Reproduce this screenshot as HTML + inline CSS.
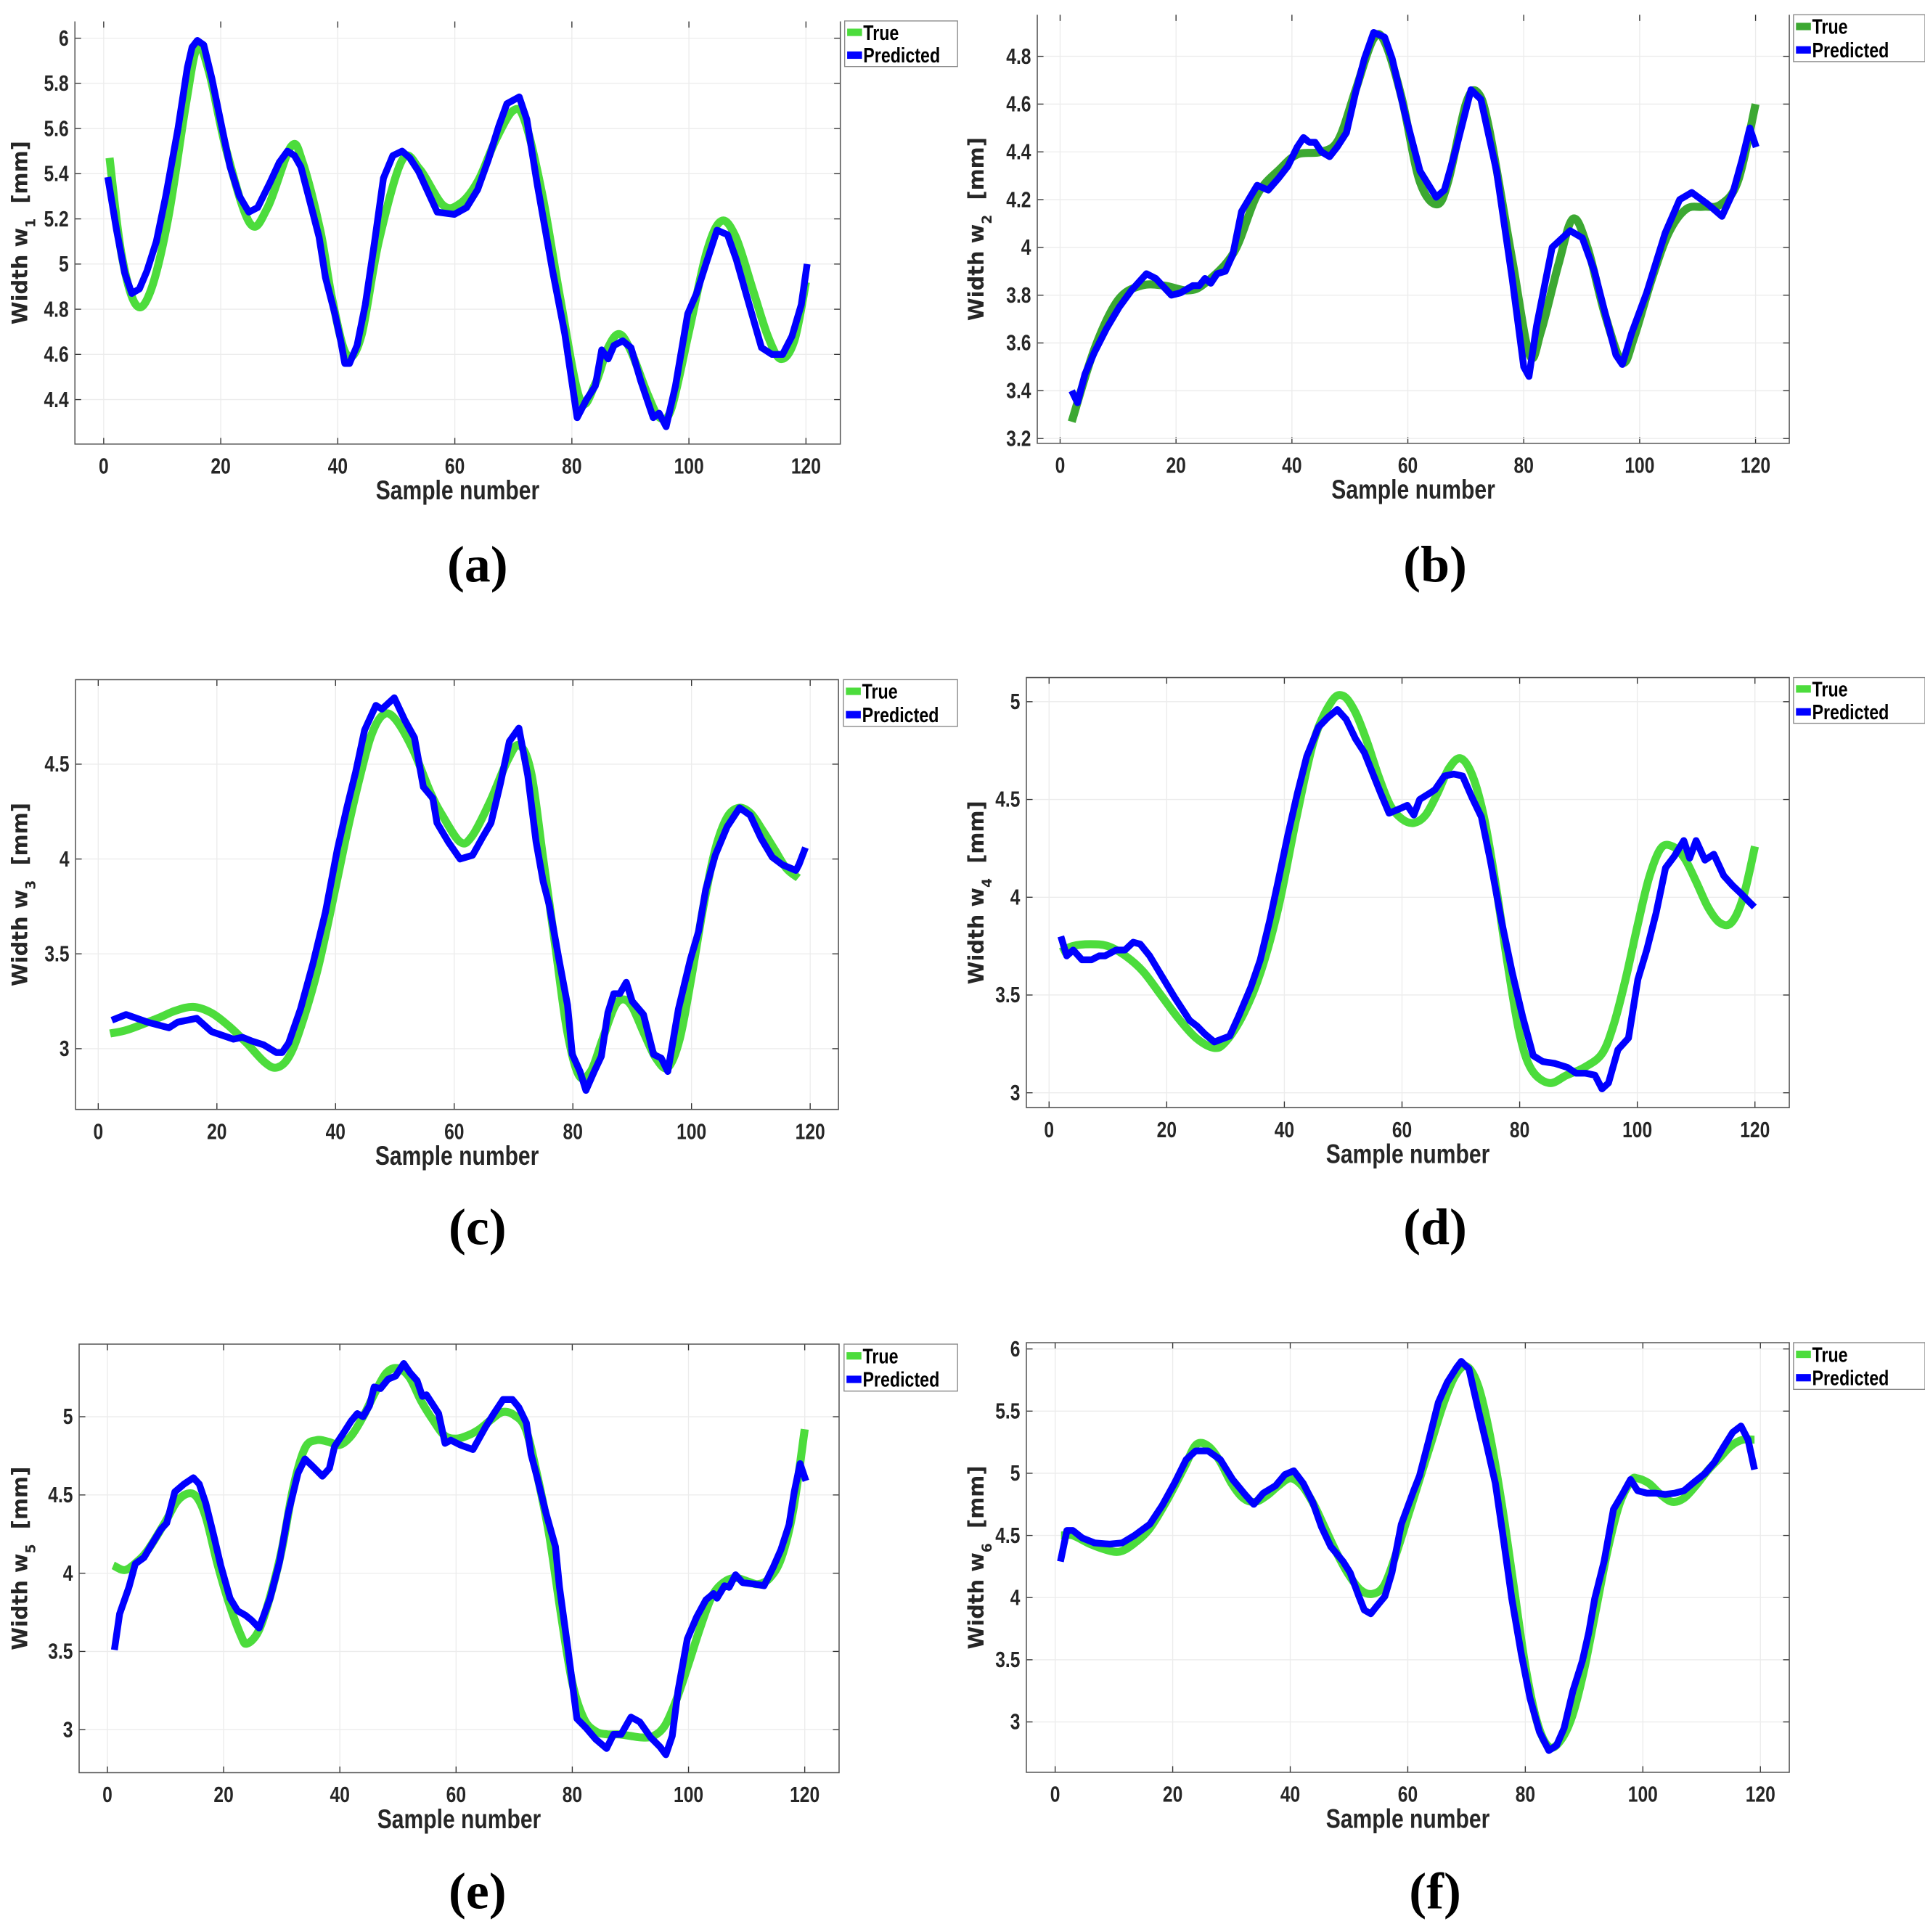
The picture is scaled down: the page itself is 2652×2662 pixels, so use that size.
<!DOCTYPE html>
<html><head><meta charset="utf-8">
<style>
html,body{margin:0;padding:0;background:#fff;}
svg{display:block;}
.tick{font-family:"Liberation Sans Narrow","Liberation Sans",sans-serif;font-weight:bold;font-size:18px;fill:#262626;}
.xl{font-family:"Liberation Sans Narrow","Liberation Sans",sans-serif;font-weight:bold;font-size:22px;fill:#262626;}
.yl{font-family:"DejaVu Sans",sans-serif;font-weight:bold;font-size:17px;fill:#262626;}
.lg{font-family:"Liberation Sans Narrow","Liberation Sans",sans-serif;font-weight:bold;font-size:17px;fill:#000;}
.cap{font-family:"Liberation Serif",serif;font-size:42px;font-weight:bold;fill:#000;}
</style></head>
<body>
<svg id="fig" xmlns="http://www.w3.org/2000/svg" width="2652" height="2662" viewBox="0 0 1552 1568" preserveAspectRatio="none"></svg>
<script>
// ---------- data ----------
const xTickLabels = [0,20,40,60,80,100,120];
const yTicksA = [4.4,4.6,4.8,5,5.2,5.4,5.6,5.8,6];
const yTicksB = [3.2,3.4,3.6,3.8,4,4.2,4.4,4.6,4.8];
const yTicksC = [3,3.5,4,4.5];
const yTicksD = [3,3.5,4,4.5,5];
const yTicksE = [3,3.5,4,4.5,5];
const yTicksF = [3,3.5,4,4.5,5,5.5,6];

const trueXA = [1,3,5.5,8,11,14,16,18,21,25,28,32,34,37,39,41.5,44,47,51,54,58,61,64,67,70,72,75,78,81.4,84,86,88,90,93,95,97,100,103,105.5,108,111,113.5,115.7,118,120];
const trueYA = [5.47,5.05,4.82,4.88,5.2,5.7,5.96,5.85,5.5,5.18,5.25,5.52,5.45,5.15,4.85,4.6,4.68,5.1,5.46,5.42,5.26,5.27,5.37,5.55,5.68,5.63,5.3,4.85,4.40,4.47,4.62,4.69,4.62,4.42,4.32,4.36,4.70,5.05,5.19,5.12,4.88,4.68,4.58,4.66,4.92];
const predXA = [0.7,2.2,3.6,4.8,6.1,7.4,9,10.6,12.7,14.3,15.1,16,17.1,18.5,20,21.6,23.2,24.8,26.3,28.4,30,31.4,32.6,33.7,35.2,36.8,37.9,39.5,40.5,41.2,42,43.3,44.7,46.3,47.8,49.4,51,52.3,53.8,55.4,57,59.9,62,63.9,65.7,67.5,68.9,71,72.3,74.1,76.7,78.8,80.9,82.5,84,85.1,86.2,87.2,88.7,90.1,91.8,93.9,94.9,96.1,97.7,99.8,101.3,102.9,104.8,106.6,108.1,110.3,112.4,114.2,116,117.6,119.2,120.2];
const predYA = [5.385,5.15,4.96,4.87,4.89,4.97,5.10,5.30,5.6,5.87,5.96,5.99,5.97,5.82,5.63,5.43,5.30,5.23,5.25,5.36,5.45,5.50,5.48,5.43,5.28,5.12,4.94,4.78,4.66,4.56,4.56,4.64,4.82,5.10,5.38,5.48,5.50,5.47,5.41,5.32,5.23,5.22,5.25,5.33,5.46,5.61,5.71,5.74,5.64,5.35,4.97,4.69,4.32,4.40,4.46,4.62,4.58,4.64,4.66,4.63,4.48,4.32,4.34,4.28,4.46,4.78,4.87,5.0,5.15,5.13,5.02,4.82,4.63,4.60,4.60,4.68,4.82,5.0];

const trueXB = [2,6,10,14,18,22,25,30,34,38,41,45,48,51,54,56,59,62,65,67,70,72,74,78,81,83,86,88.5,91,94,97,99,102,105,108,111,114,117,120];
const trueYB = [3.27,3.58,3.78,3.84,3.84,3.82,3.85,3.98,4.22,4.33,4.39,4.40,4.45,4.66,4.87,4.86,4.62,4.28,4.18,4.28,4.60,4.65,4.50,3.95,3.55,3.65,3.93,4.12,4.00,3.72,3.52,3.62,3.86,4.06,4.16,4.17,4.18,4.28,4.60];
const predXB = [2,3,4.3,5.9,8,10.2,12.3,14.9,16.5,19.2,20.8,22.9,24,25,26,27.1,28.5,29.8,31.3,34,35.9,37.7,39.3,40.9,42,43,44,45.1,46.5,47.8,49.4,51,52.5,54.1,56,57.3,59.4,62.1,64.9,66.3,68.4,70.9,72.6,75.3,78,80,80.9,82.2,84.9,88,90.1,92.2,94.3,95.9,97,98.6,101.2,104.4,106.9,109,111.8,114.2,116.1,117.7,119,120.1];
const predYB = [3.40,3.35,3.47,3.56,3.66,3.75,3.82,3.89,3.87,3.80,3.81,3.84,3.84,3.87,3.85,3.89,3.90,3.97,4.15,4.26,4.24,4.29,4.34,4.42,4.46,4.44,4.44,4.40,4.38,4.42,4.48,4.65,4.79,4.90,4.88,4.79,4.57,4.32,4.21,4.24,4.42,4.66,4.62,4.32,3.87,3.50,3.46,3.67,4.0,4.07,4.04,3.90,3.70,3.55,3.51,3.64,3.81,4.06,4.20,4.23,4.18,4.13,4.23,4.37,4.50,4.42];

const trueXC = [2,5,10,13,16,19,22,25,28,30,32,34,37,40,42,44,46,48,50,53,56,58,61,63,66,69,71,73,75,77,79,81,83,85,87,88.5,90,92,94,96,98,100,102,104,106,108,110,112,114,116,118];
const trueYC = [3.08,3.10,3.16,3.20,3.22,3.19,3.12,3.03,2.93,2.90,2.95,3.10,3.42,3.85,4.15,4.42,4.65,4.76,4.74,4.58,4.35,4.23,4.09,4.12,4.30,4.52,4.60,4.45,4.0,3.55,3.1,2.86,2.88,3.05,3.22,3.26,3.22,3.08,2.95,2.90,3.05,3.38,3.75,4.05,4.22,4.27,4.24,4.15,4.05,3.95,3.90];
const predXC = [2.3,4.7,8.3,11.9,13.4,16.6,19.1,22.8,24.3,25.9,27.9,30,31,32.1,34.1,36.2,38.3,40.3,41.9,43.4,44.9,46.8,47.8,49.9,51.7,53.3,54.8,56.4,57.1,59,61,63.1,64.7,66.2,67.8,69.3,70.9,72.4,73.8,75,76,77.6,79.1,79.9,81.2,82.2,83.6,84.8,85.9,86.9,87.9,89,90,91.9,93.6,94.9,96,97.8,99.8,101.2,102.4,104,106,108.1,109.9,111.7,113.6,115.3,117.6,118.1,119.2];
const predYC = [3.15,3.18,3.14,3.11,3.14,3.16,3.09,3.05,3.06,3.04,3.02,2.98,2.98,3.03,3.21,3.45,3.72,4.05,4.27,4.46,4.68,4.81,4.79,4.85,4.73,4.64,4.38,4.32,4.19,4.09,4.0,4.02,4.11,4.19,4.40,4.62,4.69,4.44,4.09,3.88,3.76,3.48,3.23,2.97,2.88,2.78,2.88,2.96,3.19,3.29,3.29,3.35,3.25,3.18,2.97,2.95,2.88,3.21,3.47,3.62,3.84,4.02,4.17,4.27,4.23,4.11,4.01,3.97,3.94,3.97,4.06];

const trueXD = [2,4,7,10,13,16,19,22,25,28,30,33,36,39,42,45,48,50,52,54,56,58,60,62,64,66,68,70,72,74,76,78,80,82,85,88,91,94,96,98,100,102,104,106,108,110,112,114,116,118,120];
const trueYD = [3.72,3.75,3.76,3.75,3.70,3.62,3.50,3.38,3.28,3.23,3.26,3.40,3.62,3.95,4.40,4.80,5.0,5.03,4.95,4.80,4.62,4.47,4.40,4.38,4.42,4.53,4.66,4.71,4.62,4.40,4.05,3.65,3.30,3.12,3.05,3.09,3.13,3.20,3.35,3.58,3.85,4.10,4.25,4.26,4.20,4.08,3.95,3.87,3.87,4.00,4.26];
const predXD = [2,3,4.1,5.6,7.2,8.5,9.5,11.4,12.9,14.3,15.5,17.1,18.7,21.3,23.9,25.2,26.5,28.1,30.7,32.2,34.3,35.9,37.5,39,40.6,42.2,43.8,45.8,47.4,49,50.5,52.1,53.6,55.2,56.4,57.8,59.4,60.9,62,63,64.6,65.6,67.2,68.8,70.3,71.9,73.5,75,76.9,78.7,80.5,82.3,83.9,86,88.1,89.6,91.2,92.8,94,95.1,96.7,98.5,100.1,101.6,103.2,104.8,106.3,107.9,108.9,110,111.5,113,114.7,116.2,117.6,118.9,119.9];
const predYD = [3.80,3.70,3.73,3.68,3.68,3.70,3.70,3.73,3.73,3.77,3.76,3.70,3.62,3.49,3.37,3.34,3.30,3.26,3.29,3.39,3.54,3.68,3.88,4.09,4.32,4.53,4.72,4.87,4.92,4.96,4.91,4.81,4.74,4.62,4.53,4.43,4.45,4.47,4.42,4.50,4.53,4.55,4.62,4.63,4.62,4.51,4.41,4.19,3.88,3.62,3.39,3.19,3.16,3.15,3.13,3.10,3.10,3.09,3.02,3.05,3.22,3.28,3.58,3.73,3.92,4.15,4.21,4.29,4.20,4.29,4.19,4.22,4.11,4.06,4.02,3.98,3.95];

const trueXE = [1,3,5,7,10,12,14,15.5,17,19,21,23,24,26,28,30,32,34,36,38,40,42,44,46,48,50,52,54,56,58,60,62,64,66,68,70,72,74,76,78,80,82,84,86,88,90,92,94,96,98,100,102,104,106,108,110,112,114,116,118,120];
const trueYE = [4.05,4.02,4.07,4.15,4.33,4.46,4.51,4.48,4.35,4.05,3.80,3.60,3.55,3.63,3.85,4.15,4.55,4.80,4.85,4.84,4.82,4.88,5.0,5.15,5.28,5.31,5.25,5.10,4.98,4.88,4.86,4.88,4.92,4.98,5.03,5.01,4.92,4.62,4.25,3.75,3.30,3.07,2.99,2.97,2.97,2.96,2.95,2.96,3.03,3.20,3.42,3.65,3.85,3.94,3.97,3.95,3.93,3.97,4.10,4.40,4.92];
const predXE = [1.2,2.1,3.7,4.8,6.3,7.4,9.2,10.2,11.6,13.2,14.8,15.8,16.9,18.3,19.5,21.1,22.4,23.8,24.8,26.1,26.9,28,29.6,31.1,32.8,34,35.4,37,38.2,39.1,40.7,41.9,43,44,45.1,45.9,47,48.3,49.6,51,52.1,53.3,54.2,54.9,57,58.1,59.1,60.7,62.9,65,66.5,68.1,69.7,70.8,72.1,72.9,73.9,75.5,77.1,77.8,79.2,80.8,82.4,84,85.9,87.1,88.4,90.1,91.6,93.5,95.1,96.1,97.2,98.2,99.8,101.4,103,104.3,104.9,106.2,107,108.1,109.3,111.4,113,114.6,115.9,117.3,118.2,119.2,120.2];
const predYE = [3.51,3.74,3.91,4.06,4.10,4.17,4.28,4.32,4.52,4.57,4.61,4.57,4.45,4.24,4.05,3.84,3.76,3.73,3.70,3.65,3.73,3.84,4.07,4.38,4.64,4.73,4.68,4.62,4.67,4.81,4.90,4.97,5.02,5.0,5.07,5.19,5.18,5.24,5.26,5.34,5.28,5.23,5.13,5.14,5.02,4.83,4.85,4.82,4.79,4.93,5.02,5.11,5.11,5.06,4.96,4.76,4.62,4.38,4.17,3.91,3.53,3.07,3.01,2.94,2.88,2.97,2.97,3.08,3.05,2.95,2.89,2.84,2.96,3.25,3.58,3.72,3.83,3.87,3.84,3.92,3.91,3.99,3.94,3.93,3.92,4.04,4.15,4.31,4.52,4.70,4.59];

const trueXF = [1,3,6,9,11,13,16,19,22,24,26,28,30,32,34,36,38,40,42,44,46,48,50,52,54,56,58,60,62,64,66,68,70,72,74,76,78,80,82,84,86,88,90,92,94,96,98,99,101,103,105,107,109,111,113,115,117,119];
const trueYF = [4.50,4.50,4.43,4.38,4.37,4.42,4.55,4.78,5.05,5.23,5.22,5.10,4.92,4.80,4.77,4.82,4.90,4.96,4.90,4.75,4.55,4.35,4.18,4.06,4.03,4.10,4.35,4.65,4.95,5.25,5.55,5.78,5.86,5.70,5.30,4.75,4.10,3.45,3.00,2.80,2.85,3.05,3.42,3.90,4.38,4.75,4.94,4.96,4.92,4.83,4.77,4.80,4.90,5.02,5.12,5.22,5.27,5.27];
const predXF = [0.9,2,3,4.6,6.7,9.3,11.4,13.5,16.1,18.2,20.3,22.3,23.9,26,28.1,30.2,32.3,33.8,35.4,37.5,39.1,40.6,42.2,43.8,45.3,46.9,49,50.2,51.6,52.6,53.7,54.7,56.1,57.3,58.9,61,62,63.6,65.2,66.7,68.3,69.1,70.4,72,73.5,74.9,76.1,77.7,79.3,80.8,82.4,84,85.3,86.6,88.1,89.7,90.8,91.8,93.4,95,96.5,97.9,99.1,100.7,102.2,103.8,105.4,107,108.5,110.6,112.2,113.7,115.3,116.7,117.9,119];
const predYF = [4.29,4.54,4.54,4.48,4.44,4.43,4.44,4.50,4.59,4.74,4.92,5.11,5.18,5.18,5.11,4.95,4.83,4.75,4.84,4.90,4.99,5.02,4.92,4.77,4.57,4.41,4.29,4.20,4.02,3.90,3.87,3.93,4.01,4.20,4.59,4.86,4.98,5.27,5.57,5.73,5.85,5.90,5.84,5.51,5.21,4.92,4.53,3.99,3.55,3.19,2.92,2.77,2.81,2.95,3.25,3.49,3.72,3.99,4.29,4.71,4.83,4.95,4.86,4.84,4.84,4.83,4.84,4.86,4.92,5.00,5.09,5.21,5.33,5.38,5.27,5.03];

// ---------- layout (pixel geometry, not data) ----------
const panels = [
 {id:'a',sub:'1',box:[60.4,677.5,17.4,360.4],xp:[83.6,649.8],yp:[[4.4,324.3],[6,31]],yt:yTicksA,tx:trueXA,ty:trueYA,px:predXA,py:predYA,leg:[681,772,17,54],yl:16,cap:[385,472],tc:'#4cdc3c',top:false},
 {id:'b',sub:'2',box:[836.3,1442.6,12,359.8],xp:[854.7,1415.4],yp:[[3.2,355.9],[4.8,45.7]],yt:yTicksB,tx:trueXB,ty:trueYB,px:predXB,py:predYB,leg:[1446,1552,12,50],yl:787,cap:[1157,472],tc:'#3ca832',top:false},
 {id:'c',sub:'3',box:[60.9,676,551.6,900.4],xp:[79.2,653.2],yp:[[3,851.1],[4.5,620.2]],yt:yTicksC,tx:trueXC,ty:trueYC,px:predXC,py:predYC,leg:[680,772,551.6,589.5],yl:16,cap:[385,1010],tc:'#4cdc3c',top:true},
 {id:'d',sub:'4',box:[827.5,1442.6,549.9,898.9],xp:[845.8,1414.9],yp:[[3,886.9],[5,569.5]],yt:yTicksD,tx:trueXD,ty:trueYD,px:predXD,py:predYD,leg:[1446,1552,549.9,587],yl:787,cap:[1157,1010],tc:'#4cdc3c',top:true},
 {id:'e',sub:'5',box:[63.8,676.5,1090.9,1438.7],xp:[86.6,648.8],yp:[[3,1403.8],[5,1149.8]],yt:yTicksE,tx:trueXE,ty:trueYE,px:predXE,py:predYE,leg:[680.5,772,1090.9,1129],yl:16,cap:[385,1549],tc:'#4cdc3c',top:true},
 {id:'f',sub:'6',box:[827.5,1442.6,1089.7,1438.4],xp:[850.7,1419.3],yp:[[3,1397.5],[6,1094.8]],yt:yTicksF,tx:trueXF,ty:trueYF,px:predXF,py:predYF,leg:[1446,1552,1089.7,1127.6],yl:787,cap:[1157,1549],tc:'#4cdc3c',top:true}
];
const NS='http://www.w3.org/2000/svg';
const svg=document.getElementById('fig');
const NARROW=0.8;
function mk(tag,attrs,parent){const e=document.createElementNS(NS,tag);for(const k in attrs)e.setAttribute(k,attrs[k]);(parent||svg).appendChild(e);return e;}
function narrowText(parent,x,y,anchor,cls,txt){
  const t=mk('text',{x:0,y:0,'text-anchor':anchor,class:cls,transform:`translate(${x},${y}) scale(${NARROW},1)`},parent);
  t.textContent=txt;return t;
}
function smoothPath(pts){
  let d='M'+pts[0][0].toFixed(2)+','+pts[0][1].toFixed(2);
  for(let i=0;i<pts.length-1;i++){
    const p0=pts[Math.max(0,i-1)],p1=pts[i],p2=pts[i+1],p3=pts[Math.min(pts.length-1,i+2)];
    const c1=[p1[0]+(p2[0]-p0[0])/6,p1[1]+(p2[1]-p0[1])/6];
    const c2=[p2[0]-(p3[0]-p1[0])/6,p2[1]-(p3[1]-p1[1])/6];
    d+=' C'+c1[0].toFixed(2)+','+c1[1].toFixed(2)+' '+c2[0].toFixed(2)+','+c2[1].toFixed(2)+' '+p2[0].toFixed(2)+','+p2[1].toFixed(2);
  }
  return d;
}
panels.forEach(P=>{
  const g=mk('g',{});
  
  
  const [L,R,T,B]=P.box;
  const xs=v=>P.xp[0]+(P.xp[1]-P.xp[0])*v/120;
  const [[v1,p1],[v2,p2]]=P.yp;
  const ys=v=>p1+(p2-p1)*(v-v1)/(v2-v1);
  xTickLabels.forEach(t=>{
    const x=xs(t);
    const gl=mk('line',{x1:x,x2:x,y1:T,y2:B,stroke:'#ececec','stroke-width':0.8},g);
    
    
    mk('line',{x1:x,x2:x,y1:B,y2:B-5,stroke:'#333','stroke-width':0.8},g);
    mk('line',{x1:x,x2:x,y1:T,y2:T+5,stroke:'#333','stroke-width':0.8},g);
    const tl=narrowText(g,x,B+24,'middle','tick',String(t));
    
    
  });
  P.yt.forEach(t=>{
    const y=ys(t);
    const gl=mk('line',{x1:L,x2:R,y1:y,y2:y,stroke:'#ececec','stroke-width':0.8},g);
    
    
    mk('line',{x1:R,x2:R-5,y1:y,y2:y,stroke:'#333','stroke-width':0.8},g);
    mk('line',{x1:L,x2:L+5,y1:y,y2:y,stroke:'#333','stroke-width':0.8},g);
    const tl=narrowText(g,L-5,y+6,'end','tick',String(t));
    
    
  });
  const ax=mk('path',{d:`M${L},${T} L${L},${B} L${R},${B} L${R},${T}`+(P.top?` Z`:''),fill:'none',stroke:'#555','stroke-width':0.9},g);
  
  
  const tp=P.tx.map((v,i)=>[xs(v),ys(P.ty[i])]);
  const tl=mk('path',{d:smoothPath(tp),fill:'none',stroke:P.tc,'stroke-width':6.5,'stroke-linejoin':'round','stroke-linecap':'butt'},g);
  
  
  const pp=P.px.map((v,i)=>xs(v).toFixed(2)+','+ys(P.py[i]).toFixed(2)).join(' ');
  const pl=mk('polyline',{points:pp,fill:'none',stroke:'#0000ff','stroke-width':5.5,'stroke-linejoin':'round','stroke-linecap':'butt'},g);
  
  
  const xl=narrowText(g,(L+R)/2,B+45,'middle','xl','Sample number');
  
  
  const cy=(T+B)/2;
  const yl=mk('text',{x:0,y:0,'text-anchor':'middle',class:'yl',transform:`translate(${P.yl+6},${cy}) rotate(-90)`},g);
  
  
  const s1=mk('tspan',{},yl); s1.textContent='Width  w';
  const s2=mk('tspan',{'baseline-shift':'sub','font-size':'11px'},yl); s2.textContent=P.sub;
  const s3=mk('tspan',{dx:'6'},yl); s3.textContent=' [mm]';
  const [lx1,lx2,ly1,ly2]=P.leg;
  const lg=mk('g',{},g);
  
  
  mk('rect',{x:lx1,y:ly1,width:lx2-lx1,height:ly2-ly1,fill:'#fff',stroke:'#888','stroke-width':0.8},lg);
  const rh=(ly2-ly1)/2;
  [['True',P.tc],['Predicted','#0000ff']].forEach((e,i)=>{
    const yy=ly1+rh*i+rh/2;
    const le=mk('g',{},lg);
    
    
    mk('rect',{x:lx1+2,y:yy-3,width:12,height:6,fill:e[1]},le);
    narrowText(le,lx1+15,yy+6,'start','lg',e[0]);
  });
  const cp=mk('text',{x:P.cap[0],y:P.cap[1],'text-anchor':'middle',class:'cap'},g);
  cp.textContent='('+P.id+')';
  
  
});
</script>
</body></html>
